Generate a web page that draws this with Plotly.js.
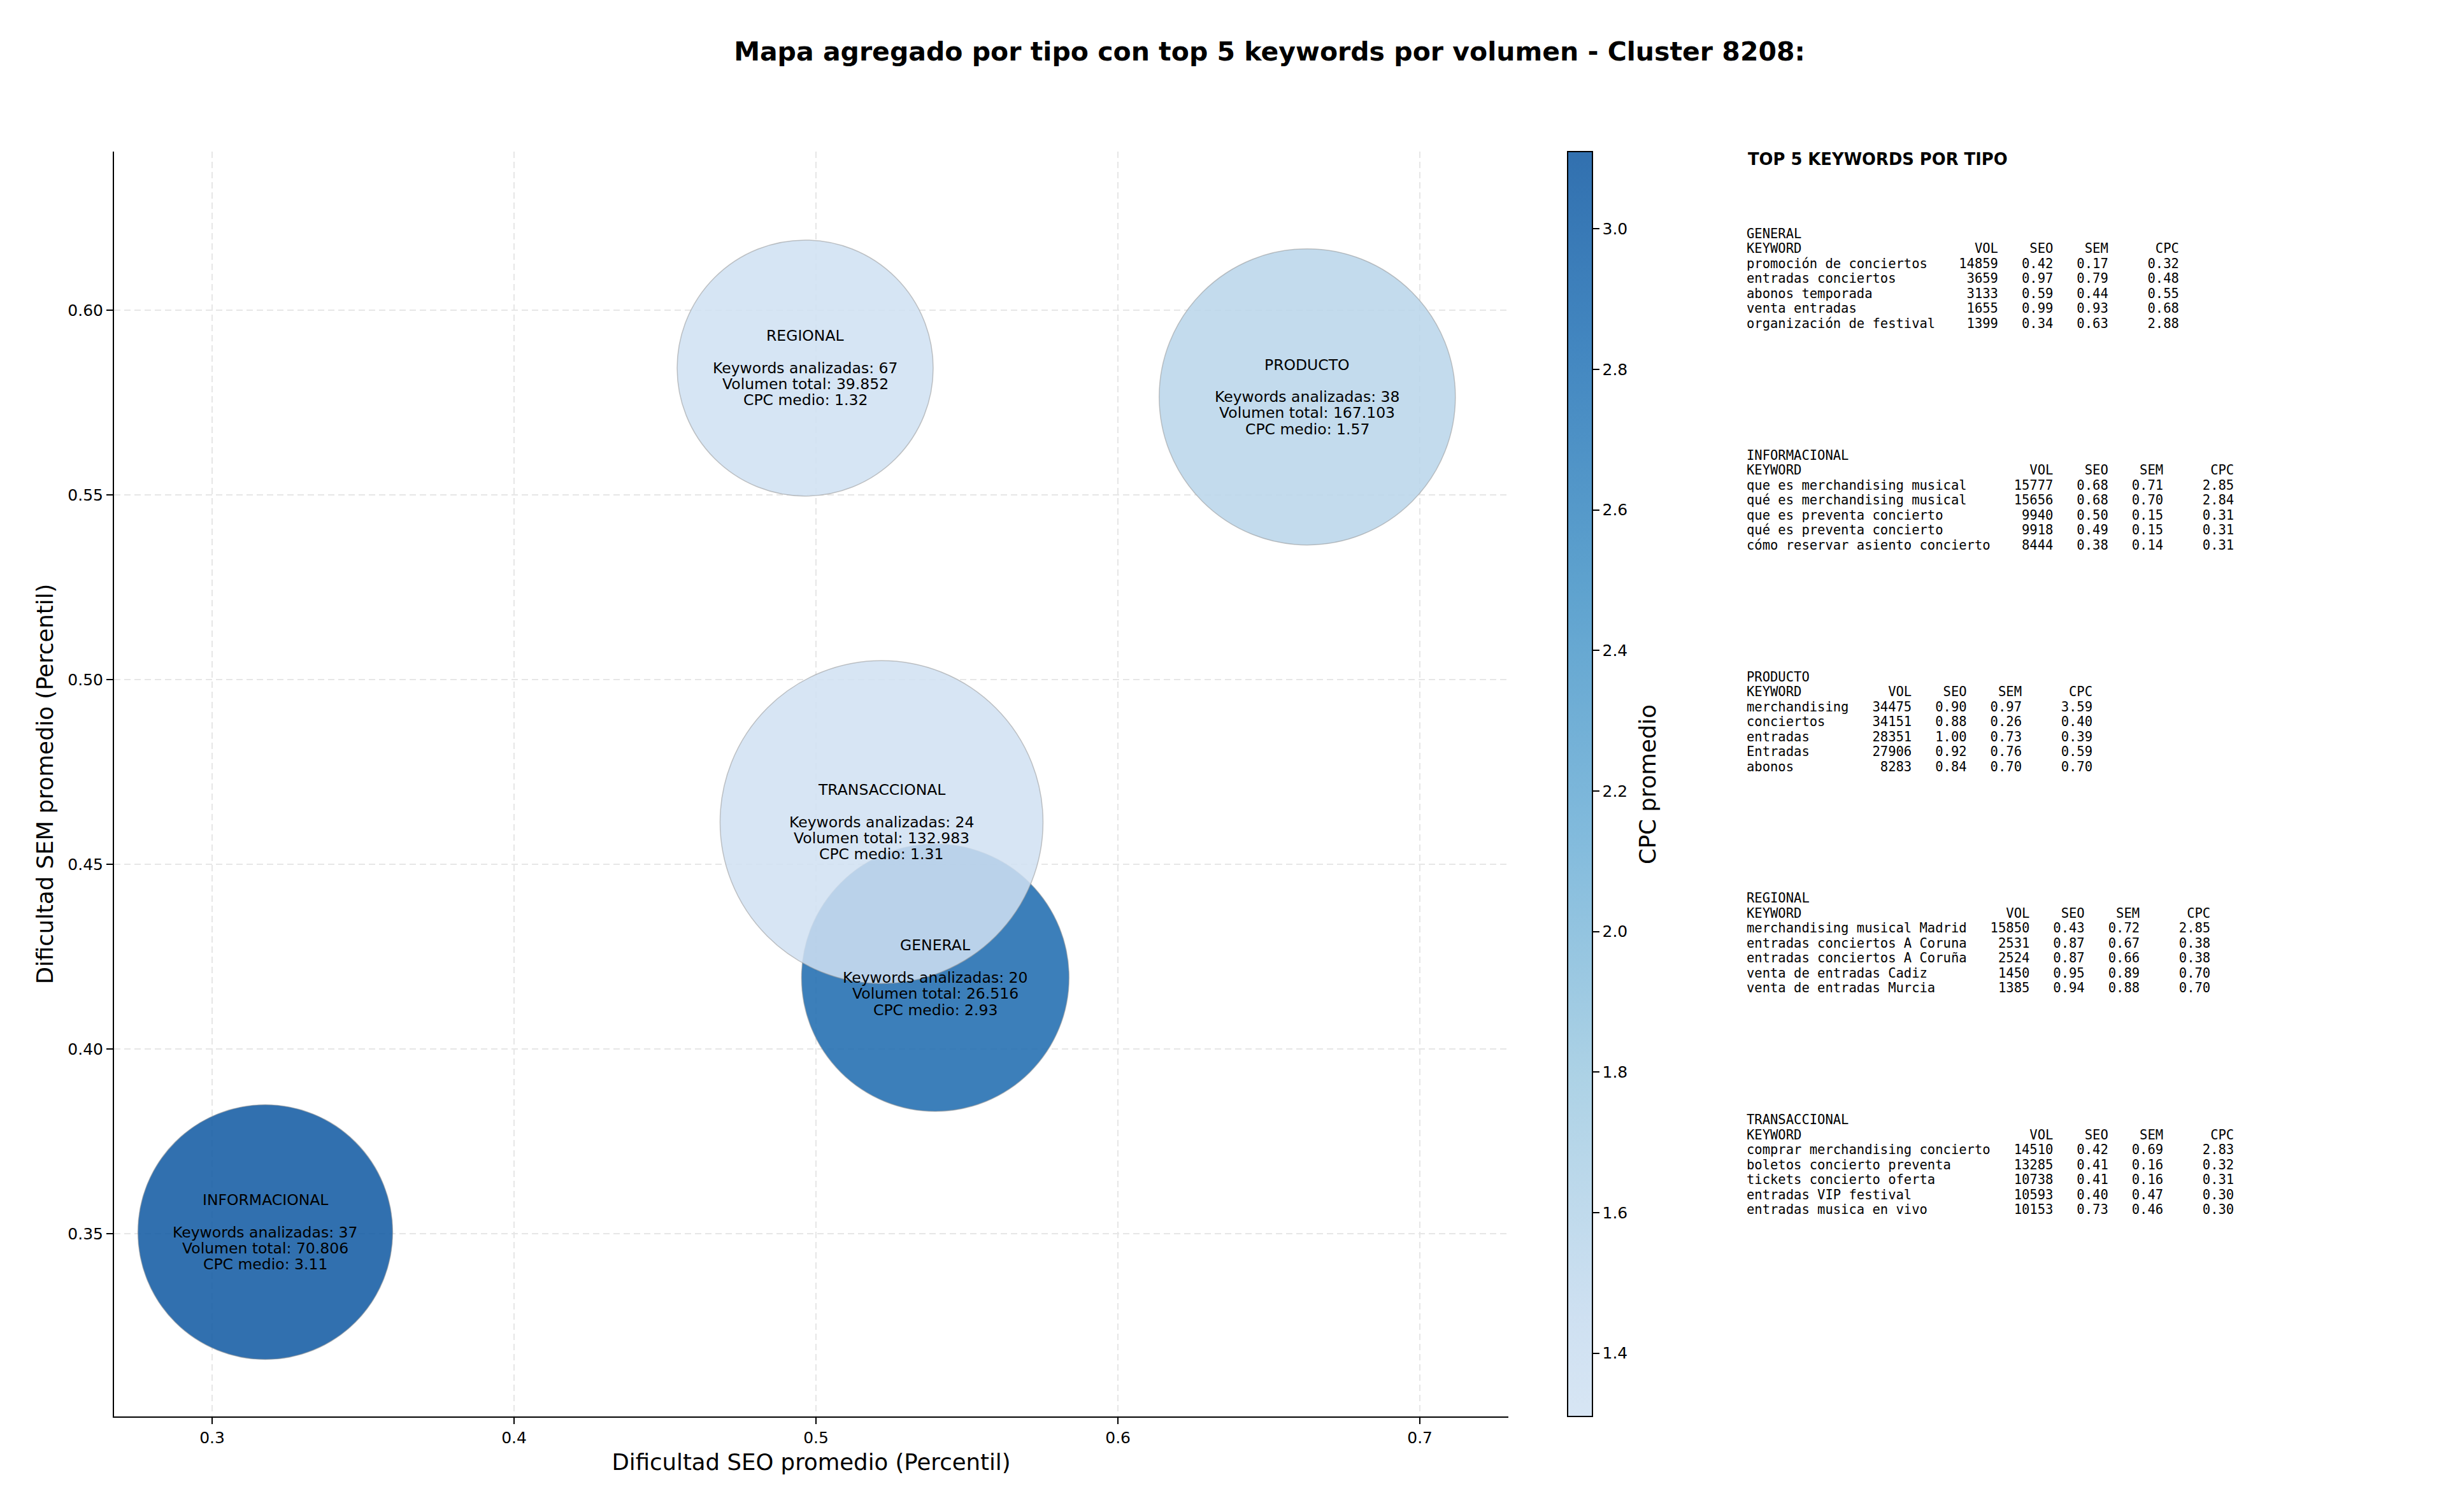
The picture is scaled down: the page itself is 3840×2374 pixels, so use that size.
<!DOCTYPE html>
<html>
<head>
<meta charset="utf-8">
<script src="https://cdn.plot.ly/plotly-3.0.1.min.js"></script>
<style>
  html, body { margin: 0; padding: 0; background: #fff; }
  #chart { width: 3840px; height: 2374px; }
</style>
</head>
<body>
<div id="chart"></div>
<script>
// ---------------- DATA ----------------
const types      = ['GENERAL', 'INFORMACIONAL', 'PRODUCTO', 'REGIONAL', 'TRANSACCIONAL'];
const seoAvg     = [0.5395, 0.3176, 0.6627, 0.4964, 0.5217];
const semAvg     = [0.4193, 0.3504, 0.5765, 0.5843, 0.4614];
const cpcAvg     = [2.93, 3.11, 1.57, 1.32, 1.31];
const kwCount    = [20, 37, 38, 67, 24];
const volTotal   = [26516, 70806, 167103, 39852, 132983];
const bubbleSize = [420, 400, 465, 402, 507];   // bubble diameter

const xTicks  = [0.3, 0.4, 0.5, 0.6, 0.7];
const yTicks  = [0.35, 0.40, 0.45, 0.50, 0.55, 0.60];
const cbTicks = [1.4, 1.6, 1.8, 2.0, 2.2, 2.4, 2.6, 2.8, 3.0];

// top 5 keywords per type: [keyword, volume, seo, sem, cpc]
const topGeneral = [
  ['promoción de conciertos', 14859, 0.42, 0.17, 0.32],
  ['entradas conciertos', 3659, 0.97, 0.79, 0.48],
  ['abonos temporada', 3133, 0.59, 0.44, 0.55],
  ['venta entradas', 1655, 0.99, 0.93, 0.68],
  ['organización de festival', 1399, 0.34, 0.63, 2.88]
];
const topInformacional = [
  ['que es merchandising musical', 15777, 0.68, 0.71, 2.85],
  ['qué es merchandising musical', 15656, 0.68, 0.70, 2.84],
  ['que es preventa concierto', 9940, 0.50, 0.15, 0.31],
  ['qué es preventa concierto', 9918, 0.49, 0.15, 0.31],
  ['cómo reservar asiento concierto', 8444, 0.38, 0.14, 0.31]
];
const topProducto = [
  ['merchandising', 34475, 0.90, 0.97, 3.59],
  ['conciertos', 34151, 0.88, 0.26, 0.40],
  ['entradas', 28351, 1.00, 0.73, 0.39],
  ['Entradas', 27906, 0.92, 0.76, 0.59],
  ['abonos', 8283, 0.84, 0.70, 0.70]
];
const topRegional = [
  ['merchandising musical Madrid', 15850, 0.43, 0.72, 2.85],
  ['entradas conciertos A Coruna', 2531, 0.87, 0.67, 0.38],
  ['entradas conciertos A Coruña', 2524, 0.87, 0.66, 0.38],
  ['venta de entradas Cadiz', 1450, 0.95, 0.89, 0.70],
  ['venta de entradas Murcia', 1385, 0.94, 0.88, 0.70]
];
const topTransaccional = [
  ['comprar merchandising concierto', 14510, 0.42, 0.69, 2.83],
  ['boletos concierto preventa', 13285, 0.41, 0.16, 0.32],
  ['tickets concierto oferta', 10738, 0.41, 0.16, 0.31],
  ['entradas VIP festival', 10593, 0.40, 0.47, 0.30],
  ['entradas musica en vivo', 10153, 0.73, 0.46, 0.30]
];
const topTables = [topGeneral, topInformacional, topProducto, topRegional, topTransaccional];

// ---------------- LAYOUT HELPERS ----------------
const L = 179, R = 2368, T = 238, B = 2224;
const px2x = px => (px - L) / (R - L);
const px2y = py => (B - py) / (B - T);
const NB = '\u00a0';
const padEnd = (s, n) => s + NB.repeat(Math.max(0, n - s.length));
const padStart = (s, n) => NB.repeat(Math.max(0, n - s.length)) + s;
const fmtThousands = n => String(n).replace(/\B(?=(\d{3})+(?!\d))/g, '.');

// Blues (matplotlib) segment, with alpha 0.85
const A = 0.85;
const colorscale = [
  [0.0,    `rgba(208,225,242,${A})`],
  [0.0769, `rgba(198,219,239,${A})`],
  [0.2692, `rgba(158,202,225,${A})`],
  [0.4615, `rgba(107,174,214,${A})`],
  [0.6538, `rgba(66,146,198,${A})`],
  [0.8462, `rgba(33,113,181,${A})`],
  [1.0,    `rgba(13,87,161,${A})`]
];

const trace = {
  type: 'scatter',
  mode: 'markers',
  x: seoAvg,
  y: semAvg,
  text: types,
  hoverinfo: 'text',
  marker: {
    size: bubbleSize,
    sizemode: 'diameter',
    color: cpcAvg,
    cmin: 1.31,
    cmax: 3.11,
    colorscale: colorscale,
    showscale: true,
    opacity: 1,
    line: { width: 1.5, color: 'rgba(150,150,150,0.55)' },
    colorbar: {
      x: px2x(2461), xanchor: 'left',
      y: 0.5, yanchor: 'middle',
      len: 1, lenmode: 'fraction',
      thickness: 39, thicknessmode: 'pixels',
      xpad: 0, ypad: 0,
      outlinecolor: '#000', outlinewidth: 2,
      ticks: 'outside', ticklen: 10, tickwidth: 2, tickcolor: '#000',
      tickvals: cbTicks, tickformat: '.1f',
      tickfont: { family: 'DejaVu Sans', size: 25, color: '#000' },
      title: { text: '' }
    }
  }
};

const annotations = [];

// colorbar title
annotations.push({
  xref: 'paper', yref: 'paper', x: px2x(2586), y: px2y(1232),
  text: 'CPC promedio', showarrow: false, textangle: -90,
  xanchor: 'center', yanchor: 'middle',
  font: { family: 'DejaVu Sans', size: 35.5, color: '#000' }
});

// bubble labels
const lineGap = 25.3;
types.forEach((t, i) => {
  const lines = [
    [t, 2],
    ['Keywords analizadas: ' + kwCount[i], 0],
    ['Volumen total: ' + fmtThousands(volTotal[i]), -1],
    ['CPC medio: ' + cpcAvg[i].toFixed(2), -2]
  ];
  lines.forEach(([txt, k]) => {
    annotations.push({
      xref: 'x', yref: 'y', x: seoAvg[i], y: semAvg[i],
      yshift: k * lineGap,
      text: txt, showarrow: false,
      xanchor: 'center', yanchor: 'middle',
      font: { family: 'DejaVu Sans', size: 23.5, color: '#000' }
    });
  });
});

// right-hand table
annotations.push({
  xref: 'paper', yref: 'paper', x: px2x(2742), y: px2y(250),
  text: 'TOP 5 KEYWORDS POR TIPO', showarrow: false,
  xanchor: 'left', yanchor: 'middle',
  font: { family: 'DejaVu Sans', size: 25.8, color: '#000', weight: 'bold' }
});
const tableX = px2x(2740);
const blockStart = 367, blockStep = 347.75, rowStep = 23.5;
topTables.forEach((rows, bi) => {
  const w = Math.max(...rows.map(r => r[0].length));
  const lines = [types[bi],
    padEnd('KEYWORD', w) + padStart('VOL', 8) + padStart('SEO', 7) + padStart('SEM', 7) + padStart('CPC', 9)];
  rows.forEach(r => {
    lines.push(padEnd(r[0], w) + padStart(String(r[1]), 8) + padStart(r[2].toFixed(2), 7) +
               padStart(r[3].toFixed(2), 7) + padStart(r[4].toFixed(2), 9));
  });
  lines.forEach((ln, j) => {
    annotations.push({
      xref: 'paper', yref: 'paper', x: tableX,
      y: px2y(blockStart + bi * blockStep + j * rowStep),
      text: ln, showarrow: false, xanchor: 'left', yanchor: 'middle',
      font: { family: 'DejaVu Sans Mono', size: 20.5, color: '#000' }
    });
  });
});

const axisCommon = {
  showline: true, linecolor: '#000', linewidth: 2, mirror: false,
  ticks: 'outside', ticklen: 10, tickwidth: 2, tickcolor: '#000',
  showgrid: true, gridcolor: '#e6e6e6', gridwidth: 2, griddash: '10px,6px',
  zeroline: false,
  tickfont: { family: 'DejaVu Sans', size: 25, color: '#000' }
};

const layout = {
  width: 3840, height: 2374,
  paper_bgcolor: '#fff', plot_bgcolor: '#fff',
  margin: { l: L, r: 3840 - R, t: T, b: 2374 - B, autoexpand: false },
  showlegend: false,
  title: {
    text: 'Mapa agregado por tipo con top 5 keywords por volumen - Cluster 8208:',
    xref: 'container', yref: 'container',
    x: 1993 / 3840, xanchor: 'center',
    y: 1 - 81 / 2374, yanchor: 'middle',
    font: { family: 'DejaVu Sans', size: 41, color: '#000', weight: 'bold' }
  },
  xaxis: Object.assign({}, axisCommon, {
    range: [0.2675, 0.7293],
    tickvals: xTicks, tickformat: '.1f',
    title: { text: 'Dificultad SEO promedio (Percentil)', standoff: 12,
             font: { family: 'DejaVu Sans', size: 35.5, color: '#000' } }
  }),
  yaxis: Object.assign({}, axisCommon, {
    range: [0.3005, 0.6429],
    tickvals: yTicks, tickformat: '.2f',
    title: { text: 'Dificultad SEM promedio (Percentil)', standoff: 12,
             font: { family: 'DejaVu Sans', size: 35.5, color: '#000' } }
  }),
  annotations: annotations
};

Plotly.newPlot('chart', [trace], layout, { displayModeBar: false, staticPlot: true });
</script>
</body>
</html>
